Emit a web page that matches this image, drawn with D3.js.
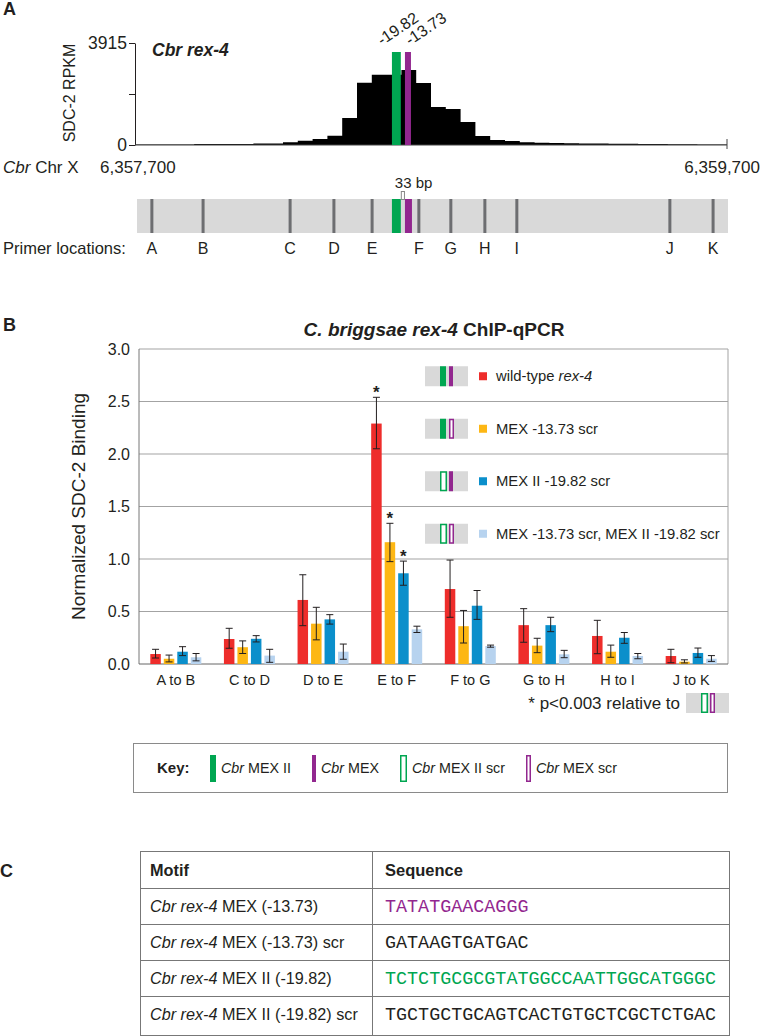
<!DOCTYPE html>
<html>
<head>
<meta charset="utf-8">
<script src="https://cdn.jsdelivr.net/npm/d3@7"></script>
<style>
  body { margin: 0; background: #fff; }
  text { font-family: "Liberation Sans", Arial, Helvetica, sans-serif; fill: #231f20; }
</style>
</head>
<body>
<script>
// ---- panel A data ----
const chrStart = 6357700, chrEnd = 6359700, binSize = 50;
const rpkmMax = 3915;
const rpkm = [15, 15, 20, 20, 35, 35, 40, 40, 55, 60, 105, 165, 230, 357, 1037, 2392, 2700, 2700, 2880, 2380,
              1460, 1380, 880, 345, 190, 150, 105, 90, 80, 70, 60, 55, 50, 45, 40, 35, 30, 25, 20, 15];
const motifNames = ["-19.82", "-13.73"];
const motifStart = [6358568, 6358612];
const motifLen = [30, 12];
const primerNames = ["A", "B", "C", "D", "E", "F", "G", "H", "I", "J", "K"];
const primerPos = [6357757, 6357930, 6358224, 6358372, 6358501, 6358659, 6358767, 6358882, 6358990, 6359507, 6359653];

// ---- panel B data ----
const categories = ["A to B", "C to D", "D to E", "E to F", "F to G", "G to H", "H to I", "J to K"];
const series = ["wild-type", "MEX -13.73 scr", "MEX II -19.82 scr", "MEX -13.73 scr, MEX II -19.82 scr"];
const wildType  = [0.095, 0.238, 0.61, 2.29, 0.714, 0.37, 0.267, 0.076];
const mexScr    = [0.05, 0.16, 0.384, 1.16, 0.36, 0.175, 0.117, 0.022];
const mex2Scr   = [0.117, 0.24, 0.425, 0.864, 0.555, 0.37, 0.25, 0.105];
const bothScr   = [0.064, 0.08, 0.117, 0.33, 0.171, 0.092, 0.076, 0.05];
const wtLow     = [0.057, 0.15, 0.365, 2.05, 0.445, 0.207, 0.098, 0.012];
const wtHigh    = [0.14, 0.34, 0.85, 2.54, 0.99, 0.527, 0.416, 0.14];
const mexLow    = [0.02, 0.10, 0.23, 0.975, 0.20, 0.108, 0.064, 0.01];
const mexHigh   = [0.085, 0.22, 0.54, 1.34, 0.51, 0.245, 0.18, 0.04];
const mex2Low   = [0.08, 0.21, 0.38, 0.75, 0.425, 0.308, 0.197, 0.064];
const mex2High  = [0.165, 0.27, 0.47, 0.98, 0.70, 0.445, 0.30, 0.152];
const bothLow   = [0.03, 0.016, 0.045, 0.30, 0.16, 0.06, 0.05, 0.025];
const bothHigh  = [0.10, 0.14, 0.19, 0.36, 0.18, 0.13, 0.10, 0.08];
const significant = ["E to F"]; // first three series starred
// which motif is intact in each series: [MEX II, MEX]
const intact = [[true, true], [true, false], [false, true], [false, false]];

// ---- panel C data ----
const motifRows = ["MEX (-13.73)", "MEX (-13.73) scr", "MEX II (-19.82)", "MEX II (-19.82) scr"];
const sequences = ["TATATGAACAGGG", "GATAAGTGATGAC", "TCTCTGCGCGTATGGCCAATTGGCATGGGC", "TGCTGCTGCAGTCACTGTGCTCGCTCTGAC"];

const GREEN = "#00a651", PURPLE = "#92278f", TRACK = "#d9d9d9", PRIMER = "#6d6e71";
const barColors = ["#ee2d2b", "#fdb714", "#0b8fcb", "#b7d3ef"];

const svg = d3.select("body").append("svg")
    .attr("width", 763)
    .attr("height", 1036);

function panelLabel(t, x, y) {
  svg.append("text").attr("x", x).attr("y", y)
      .attr("font-size", 18).attr("font-weight", "bold").text(t);
}

// small gene icon used in legend and footnote
function icon(g, x0, yc, mex2Solid, mexSolid) {
  g.append("rect").attr("x", x0).attr("y", yc - 10).attr("width", 43).attr("height", 20).attr("fill", TRACK);
  const parts = [[15, 6, GREEN, mex2Solid], [24, 4, PURPLE, mexSolid]];
  parts.forEach(([dx, w, c, solid]) => {
    if (solid) {
      g.append("rect").attr("x", x0 + dx).attr("y", yc - 10).attr("width", w).attr("height", 20).attr("fill", c);
    } else {
      g.append("rect").attr("x", x0 + dx + 0.75).attr("y", yc - 9.25).attr("width", w - 0.5).attr("height", 18.5)
          .attr("fill", "#fff").attr("stroke", c).attr("stroke-width", 1.5);
    }
  });
}

// ================= Panel A =================
panelLabel("A", 3, 15);

const xg = d3.scaleLinear().domain([chrStart, chrEnd]).range([135, 727]);
const yr = d3.scaleLinear().domain([0, rpkmMax]).range([145, 43]);

const bins = rpkm.map((v, i) => ({pos: chrStart + i * binSize, v}));
bins.push({pos: chrEnd, v: rpkm[rpkm.length - 1]});

svg.append("path")
    .datum(bins)
    .attr("fill", "#000")
    .attr("d", d3.area().curve(d3.curveStepAfter)
        .x(d => xg(d.pos)).y0(yr(0)).y1(d => yr(d.v)));

svg.append("g")
    .attr("transform", "translate(135,0)")
    .call(d3.axisLeft(yr).tickValues([0, rpkmMax / 2, rpkmMax])
        .tickFormat(d => d === rpkmMax / 2 ? "" : d).tickSize(6).tickSizeOuter(0))
    .call(g => g.selectAll("text").attr("font-size", 17.5).attr("font-family", null).attr("x", -8))
    .call(g => g.selectAll("line,path").attr("stroke", "#231f20"));

svg.append("line").attr("x1", 135).attr("x2", 727).attr("y1", yr(0)).attr("y2", yr(0))
    .attr("stroke", "#444");
svg.append("line").attr("x1", 727).attr("x2", 727).attr("y1", yr(0) - 6).attr("y2", yr(0) + 4)
    .attr("stroke", "#444");

svg.append("text").attr("transform", "translate(75,93) rotate(-90)")
    .attr("text-anchor", "middle").attr("font-size", 16).text("SDC-2 RPKM");

svg.append("text").attr("x", 152).attr("y", 56).attr("font-size", 17.5)
    .attr("font-weight", "bold").attr("font-style", "italic").text("Cbr rex-4");

const motifColor = i => i === 0 ? GREEN : PURPLE;
const motifW = i => Math.max(xg(motifStart[i] + motifLen[i]) - xg(motifStart[i]), 6);

motifNames.forEach((name, i) => {
  const x0 = xg(motifStart[i]);
  svg.append("rect").attr("x", x0).attr("y", 52).attr("width", motifW(i)).attr("height", yr(0) - 52)
      .attr("fill", motifColor(i));
  const lx = x0 + (i === 0 ? -10 : 5);
  svg.append("text").attr("transform", `translate(${lx},46) rotate(-34)`)
      .attr("font-size", 16).text(name);
});

// chromosome coordinates
const chrLab = svg.append("text").attr("x", 3).attr("y", 173).attr("font-size", 17);
chrLab.append("tspan").attr("font-style", "italic").text("Cbr");
chrLab.append("tspan").text(" Chr X");
svg.append("text").attr("x", 100).attr("y", 173).attr("font-size", 17).text(d3.format(",")(chrStart));
svg.append("text").attr("x", 760).attr("y", 173).attr("font-size", 17).attr("text-anchor", "end")
    .text(d3.format(",")(chrEnd));

// primer track
const trackY = 199, trackH = 34;
svg.append("rect").attr("x", xg(chrStart) + 2).attr("y", trackY)
    .attr("width", xg(chrEnd) - xg(chrStart) - 1).attr("height", trackH).attr("fill", TRACK);

primerNames.forEach((p, i) => {
  const x = xg(primerPos[i]);
  svg.append("rect").attr("x", x - 1.5).attr("y", trackY).attr("width", 3).attr("height", trackH)
      .attr("fill", PRIMER);
  svg.append("text").attr("x", x).attr("y", 254).attr("text-anchor", "middle")
      .attr("font-size", 16).text(p);
});

motifNames.forEach((name, i) => {
  svg.append("rect").attr("x", xg(motifStart[i])).attr("y", trackY).attr("width", motifW(i) + (i ? 1 : 0))
      .attr("height", trackH).attr("fill", motifColor(i));
});

const gapL = xg(motifStart[0]) + motifW(0), gapR = xg(motifStart[1]);
svg.append("rect").attr("x", gapL + 0.5).attr("y", 191.5).attr("width", gapR - gapL - 1).attr("height", 8)
    .attr("fill", "#fff").attr("stroke", "#888").attr("stroke-width", 1);
svg.append("text").attr("x", gapL - 6).attr("y", 188).attr("font-size", 15).text("33 bp");

svg.append("text").attr("x", 3).attr("y", 254).attr("font-size", 16.5).text("Primer locations:");

// ================= Panel B =================
panelLabel("B", 3, 331);

const yb = d3.scaleLinear().domain([0, 3]).range([664, 349]);
const xb = d3.scaleBand().domain(categories).range([139, 728]);
const xs = d3.scaleBand().domain(series).range([11.3, 62.3]).paddingInner(0.222);

const title = svg.append("text").attr("x", 434).attr("y", 336).attr("text-anchor", "middle")
    .attr("font-size", 19).attr("font-weight", "bold");
title.append("tspan").attr("font-style", "italic").text("C. briggsae rex-4");
title.append("tspan").text(" ChIP-qPCR");

const gridVals = d3.range(0.5, 3.01, 0.5);
svg.append("g").selectAll("line").data(gridVals).join("line")
    .attr("x1", 139).attr("x2", 728).attr("y1", d => yb(d)).attr("y2", d => yb(d))
    .attr("stroke", "#a3a3a3").attr("stroke-width", 1);
svg.append("line").attr("x1", 728).attr("x2", 728).attr("y1", yb(3)).attr("y2", yb(0))
    .attr("stroke", "#a3a3a3");
svg.append("line").attr("x1", 139).attr("x2", 139).attr("y1", yb(3)).attr("y2", yb(0))
    .attr("stroke", "#777");
svg.append("line").attr("x1", 139).attr("x2", 728).attr("y1", yb(0)).attr("y2", yb(0))
    .attr("stroke", "#666");

svg.append("g").selectAll("text").data(d3.range(0, 3.01, 0.5)).join("text")
    .attr("x", 130).attr("y", d => yb(d)).attr("dy", "0.35em").attr("text-anchor", "end")
    .attr("font-size", 16).text(d3.format(".1f"));

svg.append("text").attr("transform", `translate(85,${(yb(0) + yb(3)) / 2}) rotate(-90)`)
    .attr("text-anchor", "middle").attr("font-size", 19).text("Normalized SDC-2 Binding");

svg.append("g").selectAll("text").data(categories).join("text")
    .attr("x", d => xb(d) + xb.bandwidth() / 2).attr("y", 685).attr("text-anchor", "middle")
    .attr("font-size", 14.5).text(d => d);

const values = [wildType, mexScr, mex2Scr, bothScr];
const lows = [wtLow, mexLow, mex2Low, bothLow];
const highs = [wtHigh, mexHigh, mex2High, bothHigh];

series.forEach((s, si) => {
  const g = svg.append("g");
  categories.forEach((c, ci) => {
    const x0 = xb(c) + xs(s), bw = xs.bandwidth(), cx = x0 + bw / 2;
    g.append("rect").attr("x", x0).attr("y", yb(values[si][ci])).attr("width", bw)
        .attr("height", yb(0) - yb(values[si][ci])).attr("fill", barColors[si]);
    const lo = yb(lows[si][ci]), hi = yb(highs[si][ci]);
    g.append("path")
        .attr("d", `M${cx},${lo}V${hi}M${cx - 3.5},${lo}H${cx + 3.5}M${cx - 3.5},${hi}H${cx + 3.5}`)
        .attr("stroke", "#231f20").attr("stroke-width", 1).attr("fill", "none");
    if (significant.includes(c) && si < 3) {
      g.append("text").attr("x", cx).attr("y", hi + 1).attr("text-anchor", "middle")
          .attr("font-size", 17).attr("font-weight", "bold").text("*");
    }
  });
});

// legend
series.forEach((s, i) => {
  const yc = yb(2.75 - 0.5 * i) + 1;
  const g = svg.append("g");
  icon(g, 425, yc, intact[i][0], intact[i][1]);
  g.append("rect").attr("x", 479).attr("y", yc - 4).attr("width", 8).attr("height", 8).attr("fill", barColors[i]);
  const t = g.append("text").attr("x", 496).attr("y", yc).attr("dy", "0.35em").attr("font-size", 14.8);
  if (i === 0) {
    t.append("tspan").text("wild-type ");
    t.append("tspan").attr("font-style", "italic").text("rex-4");
  } else {
    t.text(s);
  }
});

// footnote
svg.append("text").attr("x", 680).attr("y", 709).attr("text-anchor", "end").attr("font-size", 17)
    .text("* p<0.003 relative to");
icon(svg.append("g"), 686, 703, false, false);

// key box
svg.append("rect").attr("x", 133.5).attr("y", 743.5).attr("width", 594).attr("height", 49)
    .attr("fill", "none").attr("stroke", "#8a8a8a");
const keyY = 768;
svg.append("text").attr("x", 157).attr("y", keyY).attr("dy", "0.35em").attr("font-size", 15)
    .attr("font-weight", "bold").text("Key:");
const keyItems = [
  {x: 210, w: 6, c: GREEN, solid: true, label: "MEX II"},
  {x: 312, w: 4, c: PURPLE, solid: true, label: "MEX"},
  {x: 400, w: 7, c: GREEN, solid: false, label: "MEX II scr"},
  {x: 526, w: 5, c: PURPLE, solid: false, label: "MEX scr"}
];
keyItems.forEach(k => {
  if (k.solid) {
    svg.append("rect").attr("x", k.x).attr("y", keyY - 13).attr("width", k.w).attr("height", 27).attr("fill", k.c);
  } else {
    svg.append("rect").attr("x", k.x + 0.75).attr("y", keyY - 12.25).attr("width", k.w - 1.5).attr("height", 25.5)
        .attr("fill", "none").attr("stroke", k.c).attr("stroke-width", 1.5);
  }
  const t = svg.append("text").attr("x", k.x + k.w + 5).attr("y", keyY).attr("dy", "0.35em").attr("font-size", 14.3);
  t.append("tspan").attr("font-style", "italic").text("Cbr");
  t.append("tspan").text(" " + k.label);
});

// ================= Panel C =================
panelLabel("C", 0, 877);

const tx0 = 140, tx1 = 372, tx2 = 729;
const rowTops = [851, 888, 924, 960, 996, 1035];
const tbl = svg.append("g");
rowTops.forEach(y => {
  tbl.append("line").attr("x1", tx0).attr("x2", tx2).attr("y1", y + 0.5).attr("y2", y + 0.5)
      .attr("stroke", "#777");
});
[tx0, tx1, tx2].forEach(x => {
  tbl.append("line").attr("x1", x + 0.5).attr("x2", x + 0.5).attr("y1", rowTops[0]).attr("y2", rowTops[5] + 1)
      .attr("stroke", "#777");
});
tbl.append("text").attr("x", 150).attr("y", 876).attr("font-size", 16.3).attr("font-weight", "bold").text("Motif");
tbl.append("text").attr("x", 385).attr("y", 876).attr("font-size", 16.5).attr("font-weight", "bold").text("Sequence");

const seqColor = [PURPLE, "#231f20", GREEN, "#231f20"];
motifRows.forEach((m, i) => {
  const yb0 = rowTops[i + 1] + 24;
  const t = tbl.append("text").attr("x", 150).attr("y", yb0).attr("font-size", 16.2);
  t.append("tspan").attr("font-style", "italic").text("Cbr rex-4");
  t.append("tspan").text(" " + m);
  tbl.append("text").attr("x", 385).attr("y", yb0)
      .style("font-family", '"Courier New", "Liberation Mono", monospace')
      .attr("font-size", 18.4).style("fill", seqColor[i]).text(sequences[i]);
});
</script>
</body>
</html>
